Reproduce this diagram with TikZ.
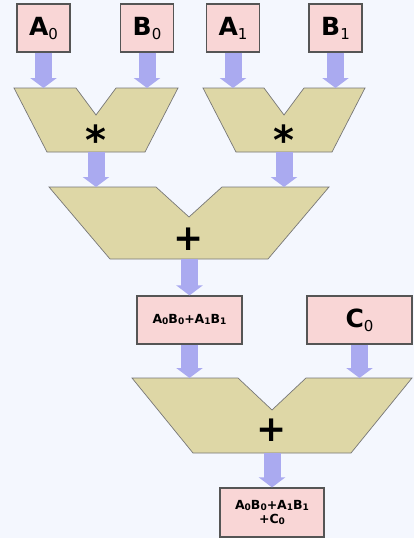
\documentclass[tikz,border=0pt]{standalone}
\usepackage{fontspec}
\setmainfont{DejaVu Sans}
\usetikzlibrary{arrows.meta}
\definecolor{bgc}{RGB}{244,247,254}
\definecolor{boxc}{RGB}{249,214,214}
\definecolor{aluc}{RGB}{222,215,166}
\definecolor{flowc}{RGB}{170,170,240}
\definecolor{edgec}{RGB}{85,85,85}
\newcommand\reglab[2]{{\fontsize{25}{25}\selectfont\bfseries #1}\raisebox{-4pt}{\fontsize{15}{15}\selectfont #2}}
\newcommand\smlab[2]{#1\raisebox{-1pt}{\fontsize{9}{9}\selectfont #2}}
\tikzset{
  reg/.style={draw=edgec, line width=1.2pt, fill=boxc, minimum width=53pt, minimum height=48pt, inner sep=0pt},
  res/.style={reg, minimum width=105pt, font=\fontsize{12.5}{14}\selectfont\bfseries, align=center},
  alu/.style={draw=edgec!80, line width=0.7pt, fill=aluc, line join=miter},
  op/.style={font=\fontsize{36}{36}\selectfont\bfseries, inner sep=0pt},
  mulop/.style={font=\fontsize{40}{40}\selectfont\bfseries, inner sep=0pt},
  flow/.style={draw=flowc, line width=17pt, -{Triangle[width=26pt,length=10pt]}}
}
\begin{document}
\begin{tikzpicture}[x=1pt,y=-1pt]
\fill[bgc] (0,0) rectangle (414,538);
\useasboundingbox (0,0) rectangle (414,538);
% ALUs
\draw[alu] (14,88) -- (76,88) -- (96,115) -- (116,88) -- (178,88) -- (145,152) -- (47,152) -- cycle;
\draw[alu] (203,88) -- (264,88) -- (284,115) -- (304,88) -- (365,88) -- (332,152) -- (236,152) -- cycle;
\draw[alu] (49,187) -- (156,187) -- (189,217) -- (222,187) -- (329,187) -- (268,259) -- (110,259) -- cycle;
\draw[alu] (132,378) -- (238,378) -- (272,410) -- (306,378) -- (412,378) -- (351,453) -- (193,453) -- cycle;
\node[mulop] (mul1) at (96,140) {*};
\node[mulop] (mul2) at (284,140) {*};
\node[op] (add1) at (189,239) {+};
\node[op] (add2) at (272,430) {+};
% coordinates
\coordinate (m1l) at (43.5,88);
\coordinate (m1r) at (147,88);
\coordinate (m2l) at (233,88);
\coordinate (m2r) at (335.5,88);
\coordinate (m1o) at (96,152);
\coordinate (m2o) at (284,152);
\coordinate (a1l) at (96,187);
\coordinate (a1r) at (284,187);
\coordinate (a1o) at (189.5,259);
\coordinate (a2l) at (189.5,378);
\coordinate (a2r) at (359.5,378);
\coordinate (a2o) at (272,453);
% boxes
\node[reg] (A0) at (43.5,28) {\reglab{A}{0}};
\node[reg] (B0) at (147,28) {\reglab{B}{0}};
\node[reg] (A1) at (233,28) {\reglab{A}{1}};
\node[reg] (B1) at (335.5,28) {\reglab{B}{1}};
\node[res] (S) at (189.5,320) {\smlab{A}{0}\smlab{B}{0}+\smlab{A}{1}\smlab{B}{1}};
\node[reg, minimum width=105pt] (C0) at (359.5,320) {\reglab{C}{0}};
\node[res, minimum width=104pt, minimum height=49pt] (F) at (272,512.5) {\smlab{A}{0}\smlab{B}{0}+\smlab{A}{1}\smlab{B}{1}\\+\smlab{C}{0}};
% flows
\draw[flow] (A0.south) -- (m1l);
\draw[flow] (B0.south) -- (m1r);
\draw[flow] (A1.south) -- (m2l);
\draw[flow] (B1.south) -- (m2r);
\draw[flow] (m1o) -- (a1l);
\draw[flow] (m2o) -- (a1r);
\draw[flow] (a1o) -- (S.north);
\draw[flow] (S.south) -- (a2l);
\draw[flow] (C0.south) -- (a2r);
\draw[flow] (a2o) -- (F.north);
\end{tikzpicture}
\end{document}
